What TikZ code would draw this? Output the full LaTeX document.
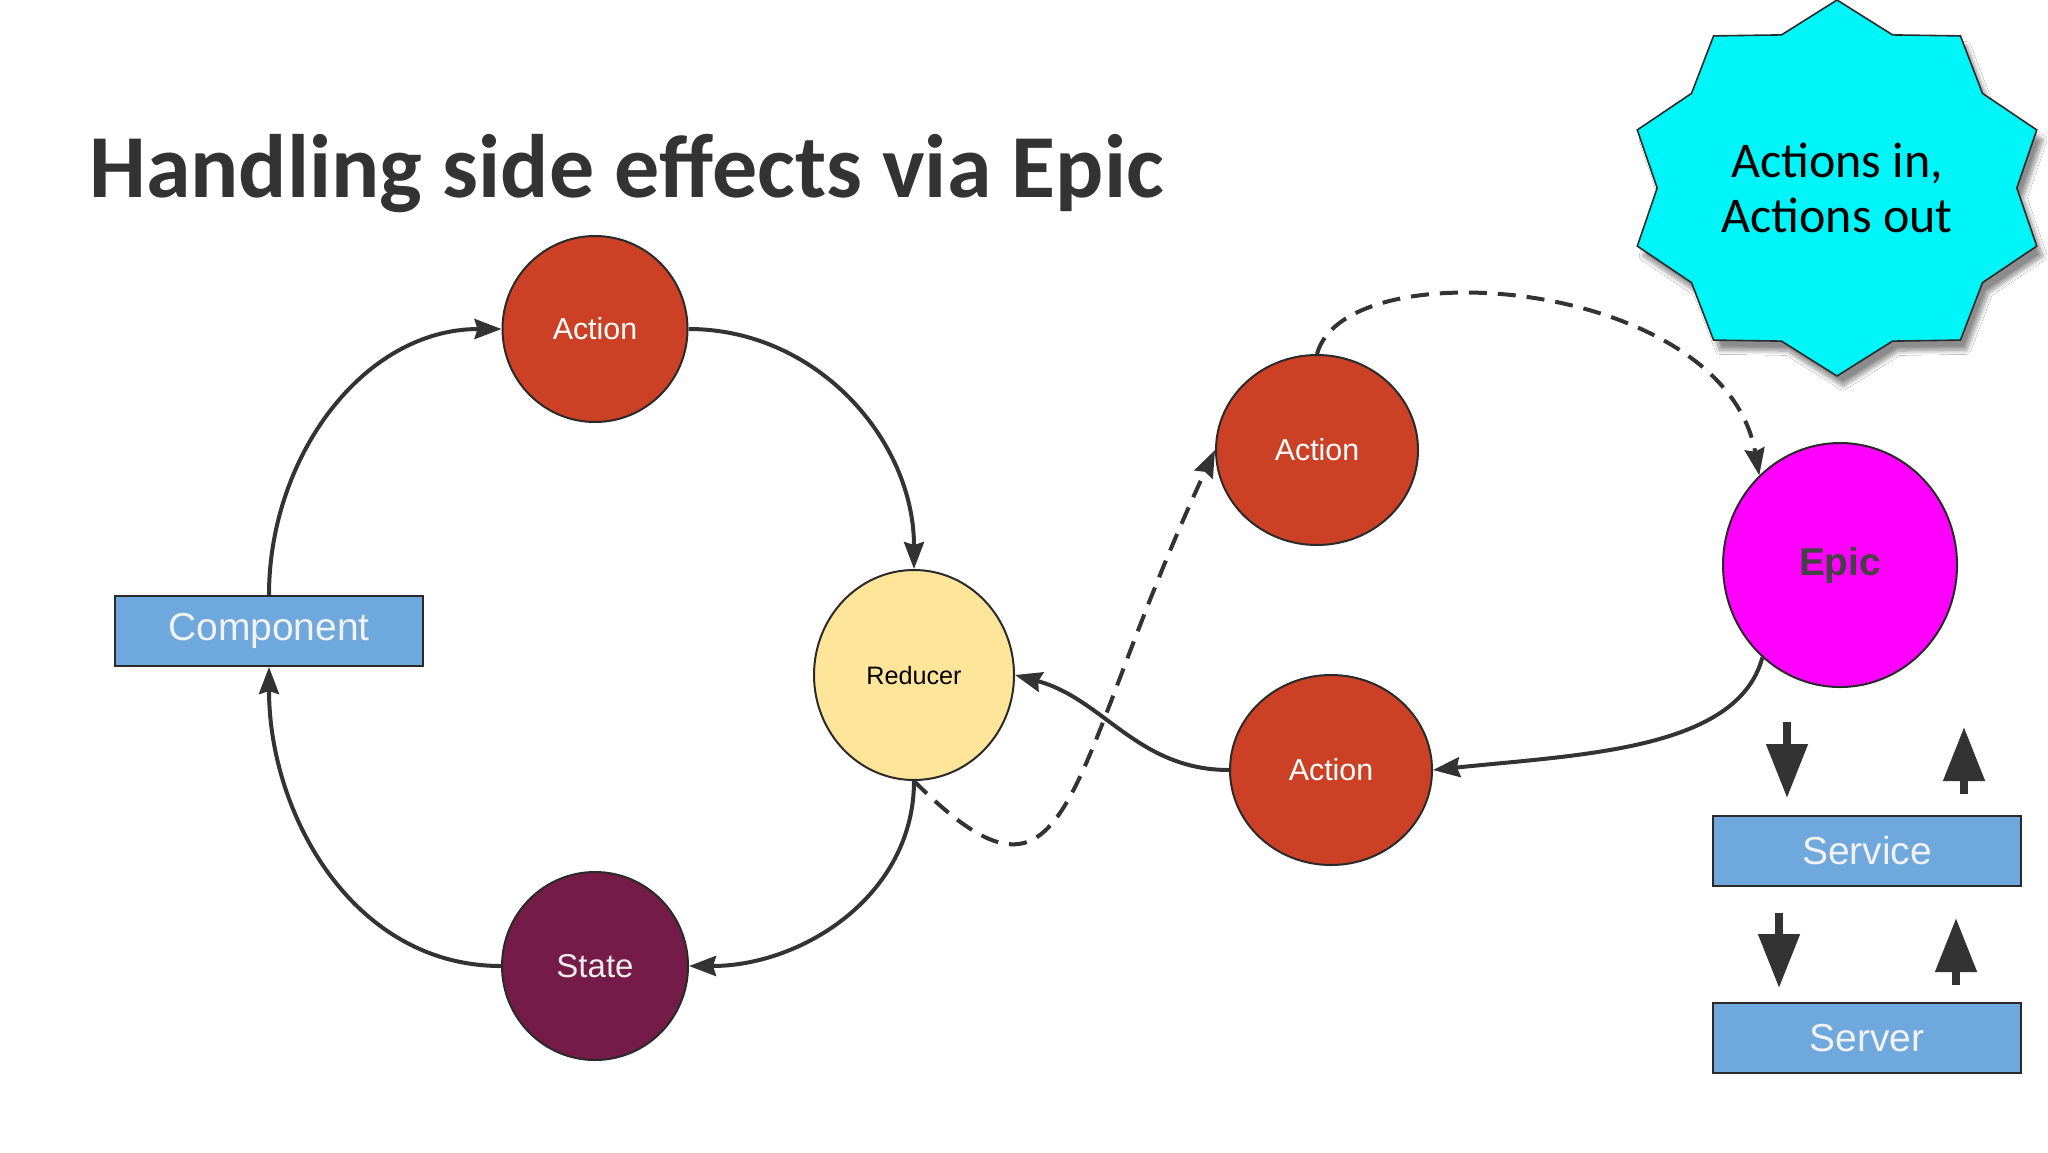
\documentclass[tikz,border=0pt]{standalone}
\usepackage{fontspec}
\setmainfont{Liberation Sans}
\newfontfamily\handfont{Carlito}
\usetikzlibrary{positioning,shapes.geometric,arrows.meta,shadows.blur}

\definecolor{actionred}{HTML}{CC4125}
\definecolor{statered}{HTML}{741B47}
\definecolor{reduceryellow}{HTML}{FFE599}
\definecolor{boxblue}{HTML}{6FA8DC}
\definecolor{epicpink}{HTML}{FF00FF}
\definecolor{burstcyan}{HTML}{00F5F8}
\definecolor{linegray}{HTML}{333333}
\definecolor{edgegray}{HTML}{2A2A2A}
\definecolor{epictext}{HTML}{434343}

\tikzset{
  bubble/.style={ellipse, draw=edgegray, line width=1pt, inner sep=0pt},
  actionnode/.style={bubble, fill=actionred, text=white, minimum width=101pt, minimum height=95pt,
    font=\fontsize{15.2}{18}\selectfont},
  statenode/.style={bubble, fill=statered, text=white!93!black, minimum width=93pt, minimum height=94pt,
    font=\fontsize{16.5}{19}\selectfont},
  reducernode/.style={bubble, fill=reduceryellow, text=black, minimum width=100pt, minimum height=105pt,
    font=\fontsize{12.6}{15}\selectfont},
  epicnode/.style={bubble, fill=epicpink, text=epictext, minimum width=117pt, minimum height=122pt,
    font=\bfseries\fontsize{19.4}{22}\selectfont},
  boxnode/.style={rectangle, draw=edgegray, line width=1pt, fill=boxblue, text=white!95!black,
    minimum width=154pt, minimum height=35pt, inner sep=0pt, font=\fontsize{19.5}{22}\selectfont},
  burstnode/.style={star, star points=10, star point ratio=1.168, minimum size=188pt, inner sep=0pt,
    xscale=1.117, transform shape, fill=burstcyan, draw=edgegray, line width=0.8pt,
    blur shadow={shadow xshift=3pt, shadow yshift=-5pt, shadow blur steps=12, shadow opacity=45}},
  flow/.style={draw=linegray, line width=2pt, -{Stealth[length=13.5pt, width=10pt, inset=1.5pt]}},
  dashflow/.style={flow, dash pattern=on 9pt off 5.5pt},
  blockarrow/.style={draw=linegray, line width=4pt, -{Triangle[length=27pt, width=20pt]}}
}

\begin{document}
\begin{tikzpicture}[x=0.5pt, y=-0.5pt]
  \useasboundingbox[fill=white] (0,0) rectangle (2048,1152);

  % Title
  \node[anchor=base west, inner sep=0pt, text=linegray, font=\handfont\bfseries\fontsize{45}{50}\selectfont]
    (title) at (89,197) {Handling side effects via Epic};

  % Define nodes
  \node[boxnode] (component) at (269,631) {Component};
  \node[actionnode, minimum width=92.5pt, minimum height=93pt] (action) at (595,329) {Action};
  \node[reducernode] (reducer) at (914,675) {Reducer};
  \node[statenode] (state) at (595,966) {State};
  \node[actionnode] (actionin) at (1317,450) {Action};
  \node[actionnode] (actionout) at (1331,770) {Action};
  \node[epicnode] (epic) at (1840,565) {Epic};
  \node[boxnode] (service) at (1867,851) {Service};
  \node[boxnode, below=57.5pt of service] (server) {Server};

  % Starburst
  \node[burstnode] (burst) at (1837,188) {};
  \node[align=center, inner sep=0pt, font=\handfont\fontsize{25}{27.5}\selectfont]
    (motto) at (burst.center) {Actions in,\\Actions out};

  % Connect the nodes
  \draw[flow] (component.north) to[out=90, in=180] (action.west);
  \draw[flow] (action.east) to[out=0, in=90] (reducer.north);
  \draw[flow] (reducer.south) to[out=-90, in=0] (state.east);
  \draw[flow] (state.west) to[out=180, in=-90] (component.south);
  \draw[flow] (actionout.west) to[out=180, in=-15] (reducer.east);
  \draw[flow] (epic.-130) .. controls +(-105:48pt) and +(6:74pt) .. (actionout.east);
  \draw[dashflow] (reducer.south) .. controls +(-45:115pt) and +(-115:180pt) .. (actionin.west);
  \draw[dashflow] (actionin.north) .. controls +(75:55pt) and +(100:100pt) .. (epic.132);

  % Service and server traffic
  \coordinate (svcdowntop) at (1787,722);
  \coordinate (svcdowntip) at (1787,798);
  \coordinate (svcupbot) at (1964,794);
  \coordinate (svcuptip) at (1964,727);
  \coordinate (srvdowntop) at (1779,913);
  \coordinate (srvdowntip) at (1779,988);
  \coordinate (srvupbot) at (1956,985);
  \coordinate (srvuptip) at (1956,918);
  \draw[blockarrow] (svcdowntop) -- (svcdowntip);
  \draw[blockarrow] (svcupbot) -- (svcuptip);
  \draw[blockarrow] (srvdowntop) -- (srvdowntip);
  \draw[blockarrow] (srvupbot) -- (srvuptip);
\end{tikzpicture}
\end{document}
